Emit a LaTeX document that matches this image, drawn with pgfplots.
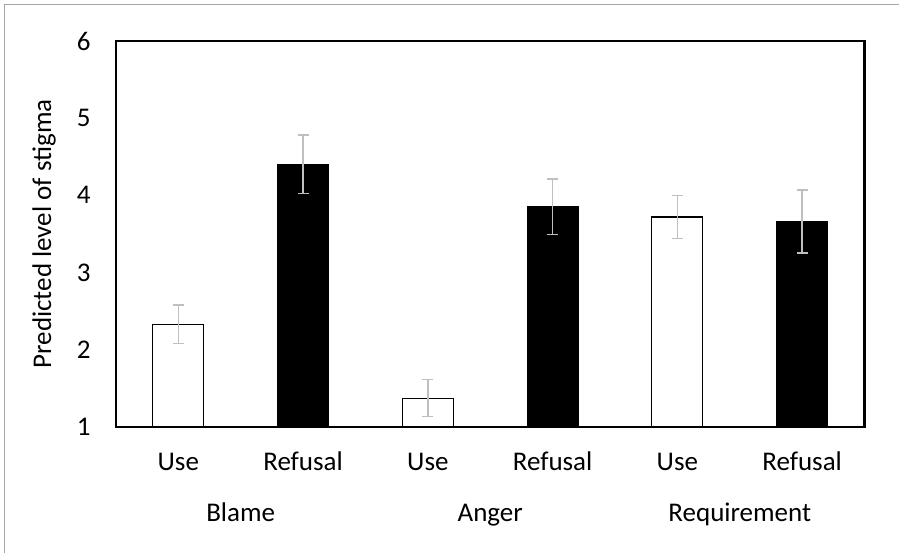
\documentclass[border=0pt]{standalone}
\usepackage{pgfplots}
\pgfplotsset{compat=1.18}
\usepackage{fontspec}
\setmainfont{Carlito}
\definecolor{errgray}{RGB}{191,191,191}
\begin{document}
\fontsize{13.5}{16}\selectfont
\begin{tikzpicture}[x=1pt,y=1pt]
\path (-58,-63) rectangle (391.5,213.5);
\draw[gray!70, line width=0.5pt] (-55.5,-63) -- (-55.5,211) -- (391.5,211);
\begin{axis}[
  at={(0,0)}, anchor=south west,
  scale only axis, width=374.5pt, height=193pt,
  xmin=-0.5, xmax=5.5, ymin=1, ymax=6,
  ybar, bar width=25.5pt, bar shift=0pt,
  xtick={0,1,2,3,4,5},
  xticklabels={Use,Refusal,Use,Refusal,Use,Refusal},
  ytick={1,2,3,4,5,6},
  major tick length=0pt,
  axis line style={line width=1.1pt},
  /pgf/number format/assume math mode=true,
  ticklabel style={font=\fontsize{13.5}{16}\selectfont},
  xticklabel style={anchor=base, yshift=-22pt},
  yticklabel style={xshift=-8pt},
  ylabel={Predicted level of stigma},
  ylabel style={at={(axis description cs:0,0.5)}, anchor=center, yshift=36pt, font=\fontsize{13.5}{16}\selectfont},
  error bars/y dir=both, error bars/y explicit,
  error bars/error bar style={errgray, line width=0.7pt},
  error bars/error mark options={errgray, line width=0.7pt, mark size=2.75pt, rotate=90},
  clip=false,
]
\addplot[fill=white, draw=black, line width=0.6pt] coordinates {
  (0,2.33) +- (0,0.25)
  (2,1.37) +- (0,0.24)
  (4,3.72) +- (0,0.28)
};
\addplot[fill=black, draw=black, line width=0.6pt] coordinates {
  (1,4.40) +- (0,0.38)
  (3,3.85) +- (0,0.36)
  (5,3.66) +- (0,0.41)
};
\node[anchor=base, yshift=-47.5pt] at (axis cs:0.5,1) {Blame};
\node[anchor=base, yshift=-47.5pt] at (axis cs:2.5,1) {Anger};
\node[anchor=base, yshift=-47.5pt] at (axis cs:4.5,1) {Requirement};
\end{axis}
\end{tikzpicture}
\end{document}
